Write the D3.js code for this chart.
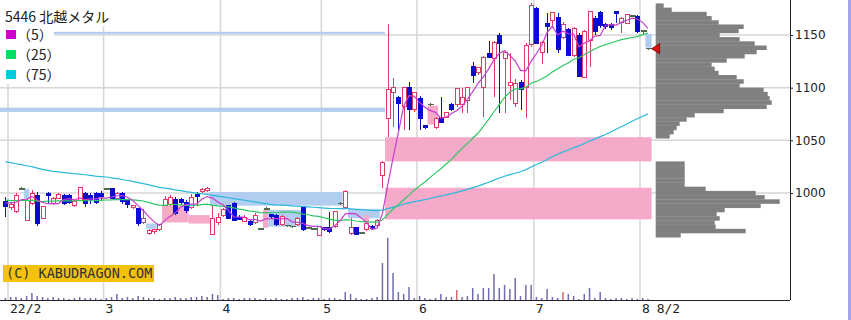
<!DOCTYPE html>
<html>
<head>
<meta charset="utf-8">
<script src="https://cdn.jsdelivr.net/npm/d3@7"></script>
<style>
  body { margin: 0; background: #fff; }
  svg { display: block; }
</style>
</head>
<body>
<div id="chart"></div>
<script>
// trading days shown (2022)
const dates = ['1/31',
  '2/1','2/2','2/3','2/4','2/7','2/8','2/9','2/10','2/14','2/15','2/16','2/17','2/18','2/21','2/22','2/24','2/25','2/28',
  '3/1','3/2','3/3','3/4','3/7','3/8','3/9','3/10','3/11','3/14','3/15','3/16','3/17','3/18','3/22','3/23','3/24','3/25','3/28','3/29','3/30','3/31',
  '4/1','4/4','4/5','4/6','4/7','4/8','4/11','4/12','4/13','4/14','4/15','4/18','4/19','4/20','4/21','4/22','4/25','4/26','4/27',
  '5/2','5/6','5/9','5/10','5/11','5/12','5/13','5/16','5/17','5/18','5/19','5/20','5/23','5/24','5/25','5/26','5/27','5/30',
  '6/1','6/2','6/3','6/6','6/7','6/8','6/9','6/10','6/13','6/14','6/15','6/16','6/17','6/20','6/21','6/22','6/23','6/24','6/27','6/28','6/29','6/30',
  '7/1','7/4','7/5','7/6','7/7','7/8','7/11','7/12','7/13','7/14','7/15','7/19','7/20','7/21','7/22','7/25','7/26','7/27','7/28','7/29',
  '8/1','8/2']

const opens = [992,
  986,982,1004,974,990,998,976,1000,990,995,998,998,988,993,1000,998,1000,1000,
  1004,1004,995,1000,993,986,985,972,962,963,965,988,989,994,994,991,986,999,1001,1002,961,972,
  979,988,990,977,973,973,972,966,985,980,979,970,969,968,970,987,967,966,960,
  967,967,968,990,986,962,967,962,965,968,969,1017,1071,1095,1091,1082,1100,1079,
  1090,1064,1084,1062,1072,1072,1084,1084,1084,1088,1120,1114,1100,1132,1128,1150,1128,1102,1085,1105,1100,1141,
  1175,1133,1161,1164,1167,1148,1155,1131,1150,1110,1145,1166,1171,1160,1160,1172,1162,1161,1168,1168,
  1154,1137]
const highs = [996,
  991,1000,1006,995,1003,1001,988,1001,996,1000,999,999,993,1006,1001,1000,1001,1002,
  1005,1005,1001,1001,994,989,986,985,966,966,971,997,998,996,995,993,999,1001,1005,1006,988,981,
  986,989,991,979,979,974,981,967,987,980,980,979,970,969,977,988,968,967,969,
  968,982,983,991,1003,976,968,963,972,970,975,1030,1160,1109,1092,1101,1105,1096,
  1092,1065,1085,1072,1091,1077,1085,1100,1100,1101,1124,1120,1130,1144,1144,1152,1134,1133,1108,1107,1142,1180,
  1177,1144,1171,1172,1171,1162,1157,1158,1152,1155,1173,1168,1173,1161,1161,1173,1167,1170,1169,1169,
  1155,1138]
const lows = [977,
  984,981,1004,973,989,969,975,990,989,994,989,990,987,992,987,990,990,993,
  1003,994,994,990,986,985,969,971,960,961,964,988,988,979,989,981,985,988,1000,1001,960,970,
  977,975,973,974,972,969,971,965,984,975,969,969,968,967,969,964,966,965,959,
  964,962,967,989,985,960,960,961,964,965,968,1005,1053,1063,1060,1060,1060,1077,
  1060,1061,1083,1061,1066,1071,1078,1082,1076,1076,1104,1112,1072,1128,1091,1076,1076,1088,1082,1079,1071,1139,
  1141,1122,1133,1157,1133,1146,1130,1129,1110,1109,1120,1150,1157,1156,1155,1161,1152,1160,1167,1152,
  1151,1136]
const closes = [987,
  989,998,1004,993,1000,971,987,998,995,999,990,991,992,1005,990,994,991,997,
  1004,995,1000,992,989,988,971,976,964,965,970,994,996,981,991,983,996,997,1003,1004,976,977,
  984,976,974,975,977,970,979,966,985,978,970,978,969,968,976,965,967,966,968,
  965,963,982,990,1001,967,961,962,971,966,974,1029,1098,1100,1085,1100,1079,1095,
  1071,1062,1084,1071,1067,1076,1079,1099,1091,1100,1112,1119,1129,1129,1143,1142,1133,1105,1104,1098,1140,1178,
  1142,1143,1158,1171,1136,1160,1131,1156,1111,1153,1172,1153,1159,1158,1157,1170,1166,1169,1168,1153,
  1154,1137]
// thousand shares
const volumes = [20,
  30,30,20,40,70,40,30,20,30,20,20,10,20,30,20,20,20,10,
  20,30,60,20,30,20,40,30,20,20,10,20,20,30,20,20,30,30,40,30,60,50,
  10,20,20,10,20,20,20,10,20,10,20,10,10,20,20,30,10,20,20,
  10,20,20,10,80,60,20,10,10,20,30,370,620,270,80,60,130,20,
  40,20,10,20,60,30,30,100,30,40,120,60,120,120,260,120,150,110,220,40,150,150,
  30,20,110,30,20,80,60,40,10,60,120,20,80,20,10,20,20,10,20,10,
  20,10]
const redVolumeDates = ['6/10', '7/8']

// closes before 1/31, estimated so the averages start where the picture's lines do
const priorCloses = [1068,1074,1072,1065,1070,1076,1071,1066,1069,
  1042,1036,1030,1033,1038,1031,1035,1040,1034,1037,
  1050,1058,1055,1061,1052,1057,1054,1049,1056,
  1053,1047,1050,1055,1048,1052,1046,1051,1049,1054,
  1040,1036,1033,1038,1031,1035,1039,1034,1030,1037,1032,1036,
  1002,998,995,1000,991,994,997,989,993,996,990,988,995,992,998,994,987,991,996,993,989,995,992,990]

const maPeriods = [5, 25, 75]
const maLabels = ['（5）', '（25）', '（75）']

// windows (gaps) still open: up = pink, down = light blue
const zones = [
  { kind: 'down', from: null, to: '5/23', lo: 1151, hi: 1153 },
  { kind: 'down', from: null, to: '5/23', lo: 1077, hi: 1081 },
  { kind: 'down', from: '2/4', to: '2/7', lo: 995, hi: 1004 },
  { kind: 'down', from: '3/11', to: '3/15', lo: 966, hi: 971 },
  { kind: 'up', from: '3/16', to: '3/24', lo: 972, hi: 988 },
  { kind: 'up', from: '3/24', to: '3/30', lo: 971, hi: 979 },
  { kind: 'down', from: '3/30', to: '5/11', lo: 988, hi: 1001 },
  { kind: 'up', from: '4/13', to: '4/14', lo: 967, hi: 984 },
  { kind: 'down', from: '4/14', to: '4/25', lo: 968, hi: 984 },
  { kind: 'down', from: '5/12', to: '5/20', lo: 976, hi: 985 },
  { kind: 'up', from: '5/17', to: '5/18', lo: 972, hi: 979 },
  { kind: 'up', from: '5/23', to: null, lo: 975, hi: 1005 },
  { kind: 'up', from: '5/23', to: null, lo: 1030, hi: 1053 },
  { kind: 'up', from: '6/3', to: '6/7', lo: 1065, hi: 1083 },
  { kind: 'down', from: '8/2', to: null, lo: 1138, hi: 1151 }
]

// volume by price, 4 yen bins (lower edge)
const profileLevels = [1176,1172,1168,1164,1160,1156,1152,1148,1144,1140,1136,1132,1128,1124,1120,1116,
  1112,1108,1104,1100,1096,1092,1088,1084,1080,1076,1072,1068,1064,1060,1056,1052,
  1026,1022,1018,1014,1010,1006,1002,998,994,990,986,982,978,974,970,966,962,958]
const profileVolumes = [8,16,51,56,63,88,83,64,84,99,111,101,89,71,56,59,
  63,81,88,84,108,112,114,116,111,68,39,31,24,21,18,14,
  29,29,29,29,29,29,50,100,109,124,105,69,61,64,59,60,90,25]

const priceTicks = [1000, 1050, 1100, 1150]
const monthStarts = ['2/1', '3/1', '4/1', '5/2', '6/1', '7/1', '8/1']
const monthLabels = ['22/2', '3', '4', '5', '6', '7', '8']
const lastLabel = '8/2'
const title = '5446 北越メタル'
const credit = '(C) KABUDRAGON.COM'

const width = 851
const height = 320
const plotRight = 790
const plotBottom = 300

const upColor = '#e23a68'
const downColor = '#0a0ad0'
const dojiColor = '#4f6a4f'
const maColors = ['#c83ccc', '#2ec864', '#2ab8dc']
const legendColors = ['#cc00cc', '#00dd66', '#00ccdd']

const svg = d3.select('#chart')
    .append('svg')
    .attr('width', width)
    .attr('height', height)
    .style('font-family', '"DejaVu Sans", sans-serif')

svg.append('rect').attr('width', width).attr('height', height).attr('fill', '#fff')

const x = d3.scaleBand()
    .domain(dates)
    .range([2.69, 2.69 + dates.length * 5.311])
const cx = d => x(d) + x.bandwidth() / 2

const y = d3.scaleLinear()
    .domain([1000, 1150])
    .range([193, 35])

const vy = d3.scaleLinear()
    .domain([0, 1000])
    .range([plotBottom, plotBottom - 100])

const px = d3.scaleLinear()
    .domain([0, 100])
    .range([655.7, 755.7])

// grid
const grid = svg.append('g')
    .attr('stroke', '#d6d6d6')
    .attr('stroke-width', 1.5)
grid.selectAll('line.h')
    .data(priceTicks)
    .enter()
    .append('line')
    .attr('x1', 0)
    .attr('x2', plotRight)
    .attr('y1', d => y(d))
    .attr('y2', d => y(d))
grid.selectAll('line.v')
    .data(monthStarts)
    .enter()
    .append('line')
    .attr('x1', d => x(d))
    .attr('x2', d => x(d))
    .attr('y1', 0)
    .attr('y2', plotBottom)

// open windows
svg.append('g')
    .selectAll('rect')
    .data(zones)
    .enter()
    .append('rect')
    .attr('x', d => d.from ? x(d.from) : 0)
    .attr('width', d => (d.to ? x(d.to) : x.range()[1] + 1) - (d.from ? x(d.from) : 0))
    .attr('y', d => y(d.hi))
    .attr('height', d => y(d.lo) - y(d.hi))
    .attr('fill', d => d.kind === 'up' ? '#f5aac9' : '#b3cdf0')

// volume
svg.append('g')
    .selectAll('rect')
    .data(dates)
    .enter()
    .append('rect')
    .attr('x', d => cx(d) - 0.75)
    .attr('width', 1.5)
    .attr('y', (d, i) => vy(volumes[i]))
    .attr('height', (d, i) => plotBottom - vy(volumes[i]))
    .attr('fill', d => redVolumeDates.includes(d) ? '#d46a6a' : '#6e6eae')

// candles
const candle = svg.append('g')
    .selectAll('g')
    .data(dates)
    .enter()
    .append('g')
    .attr('shape-rendering', 'crispEdges')

const colorOf = i => closes[i] > opens[i] ? upColor : (closes[i] < opens[i] ? downColor : dojiColor)

candle.append('line')
    .attr('x1', d => Math.round(cx(d)) + 0.5)
    .attr('x2', d => Math.round(cx(d)) + 0.5)
    .attr('y1', (d, i) => y(highs[i]))
    .attr('y2', (d, i) => y(lows[i]))
    .attr('stroke', (d, i) => colorOf(i))

candle.filter((d, i) => closes[i] !== opens[i])
    .append('rect')
    .attr('x', d => Math.round(cx(d)) - 1.5)
    .attr('width', 4)
    .attr('y', d => {
        const i = dates.indexOf(d)
        return y(Math.max(opens[i], closes[i]))
    })
    .attr('height', d => {
        const i = dates.indexOf(d)
        return Math.max(1, y(Math.min(opens[i], closes[i])) - y(Math.max(opens[i], closes[i])))
    })
    .attr('fill', d => {
        const i = dates.indexOf(d)
        return closes[i] > opens[i] ? '#fff' : downColor
    })
    .attr('stroke', d => colorOf(dates.indexOf(d)))

candle.filter((d, i) => closes[i] === opens[i])
    .append('line')
    .attr('x1', d => Math.round(cx(d)) - 2.5)
    .attr('x2', d => Math.round(cx(d)) + 3.5)
    .attr('y1', d => y(closes[dates.indexOf(d)]))
    .attr('y2', d => y(closes[dates.indexOf(d)]))
    .attr('stroke', dojiColor)
    .attr('stroke-width', 1.5)

// moving averages
const allCloses = priorCloses.concat(closes)
function movingAverage(n) {
    return closes.map((c, i) => {
        const end = i + priorCloses.length
        return d3.mean(allCloses.slice(end - n + 1, end + 1))
    })
}
const maLine = d3.line()
    .x((d, i) => cx(dates[i]))
    .y(d => y(d))

maPeriods.slice().reverse().forEach((n, k) => {
    const idx = maPeriods.length - 1 - k
    svg.append('path')
        .datum(movingAverage(n))
        .attr('d', maLine)
        .attr('fill', 'none')
        .attr('stroke', maColors[idx])
        .attr('stroke-width', 1.2)
})

// volume by price
svg.append('g')
    .selectAll('rect')
    .data(profileLevels)
    .enter()
    .append('rect')
    .attr('x', px(0))
    .attr('width', (d, i) => px(profileVolumes[i]) - px(0))
    .attr('y', d => y(d + 4))
    .attr('height', d => y(d) - y(d + 4) + 0.3)
    .attr('fill', '#808080')

// last price marker
const lastY = y(closes[closes.length - 1])
const mx = x.range()[1] + 1
svg.append('path')
    .attr('d', `M${mx},${lastY} L${mx + 8},${lastY - 5} L${mx + 8},${lastY + 5} Z`)
    .attr('fill', '#dd1010')
    .attr('stroke', '#7a0000')
    .attr('stroke-width', 0.8)

// frame and axes
svg.append('line')
    .attr('x1', plotRight + 0.5).attr('x2', plotRight + 0.5)
    .attr('y1', 0).attr('y2', plotBottom)
    .attr('stroke', '#222')
svg.append('line')
    .attr('x1', 0).attr('x2', plotRight)
    .attr('y1', plotBottom + 0.5).attr('y2', plotBottom + 0.5)
    .attr('stroke', '#222')

const yAxis = svg.append('g')
    .attr('transform', `translate(${plotRight},0)`)
    .call(d3.axisRight(y).tickValues(priceTicks).tickFormat(d3.format('d')).tickSize(3).tickPadding(2))
yAxis.select('.domain').remove()
yAxis.selectAll('line').attr('stroke', '#222')
yAxis.selectAll('text')
    .attr('font-size', 12)
    .attr('font-family', '"DejaVu Sans", sans-serif')
    .attr('fill', '#222')

svg.append('g')
    .selectAll('text')
    .data(monthStarts)
    .enter()
    .append('text')
    .attr('x', d => x(d) + 2)
    .attr('y', 313)
    .attr('font-family', '"DejaVu Sans Mono", monospace')
    .attr('font-size', 13)
    .attr('fill', '#222')
    .text((d, i) => monthLabels[i])
svg.append('text')
    .attr('x', x.range()[1] + 6)
    .attr('y', 313)
    .attr('font-family', '"DejaVu Sans Mono", monospace')
    .attr('font-size', 13)
    .attr('fill', '#222')
    .text(lastLabel)

svg.append('rect')
    .attr('x', 848).attr('y', 0)
    .attr('width', 3).attr('height', height)
    .attr('fill', '#a3a3ee')

// legend
const legend = svg.append('g').style('font-family', '"Noto Sans CJK JP", sans-serif')
legend.append('rect').attr('x', 0).attr('y', 0).attr('width', 116).attr('height', 26).attr('fill', '#fff')
legend.append('rect').attr('x', 0).attr('y', 26).attr('width', 54).attr('height', 58).attr('fill', '#fff')
legend.append('text')
    .attr('x', 5)
    .attr('y', 22)
    .attr('font-size', 14)
    .attr('fill', '#222')
    .text(title)
maLabels.forEach((label, i) => {
    legend.append('rect')
        .attr('x', 6)
        .attr('y', 30 + i * 20)
        .attr('width', 10)
        .attr('height', 9)
        .attr('fill', legendColors[i])
    legend.append('text')
        .attr('x', 17)
        .attr('y', 40 + i * 20)
        .attr('font-size', 14)
        .attr('fill', '#222')
        .text(label)
})

// credit
svg.append('rect')
    .attr('x', 3).attr('y', 265)
    .attr('width', 151).attr('height', 17)
    .attr('fill', '#f2c20c')
svg.append('text')
    .attr('x', 6)
    .attr('y', 278)
    .attr('font-family', '"DejaVu Sans Mono", monospace')
    .attr('font-size', 13.5)
    .attr('fill', '#333')
    .text(credit)
</script>
</body>
</html>
